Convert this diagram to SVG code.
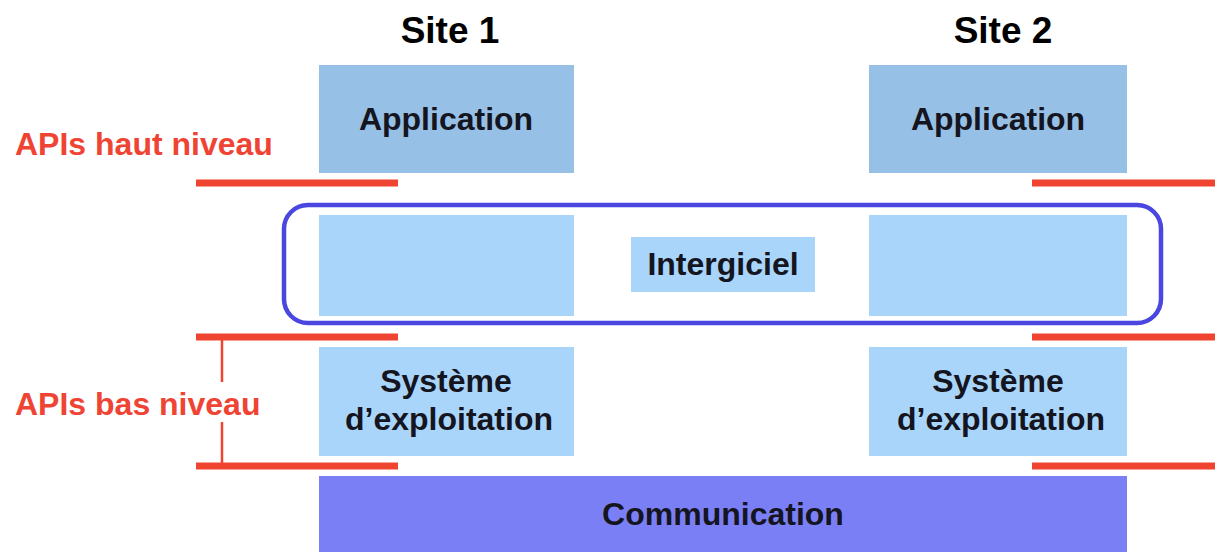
<svg xmlns="http://www.w3.org/2000/svg" width="1215" height="552" viewBox="0 0 1215 552">
<style>
.t{font-family:"Liberation Sans",Arial,sans-serif;font-weight:bold;font-size:32px;fill:#15151f;text-anchor:middle}
.site{font-family:"Liberation Sans",Arial,sans-serif;font-weight:bold;font-size:37px;fill:#000;text-anchor:middle}
.api{font-family:"Liberation Sans",Arial,sans-serif;font-weight:bold;font-size:32px;fill:#ef4434}
.app{fill:#97c0e6}
.light{fill:#a9d5fb}
.red{stroke:#ef4430;stroke-width:7;fill:none}
.redthin{stroke:#ef4430;stroke-width:2.5;fill:none}
</style>
<rect width="1215" height="552" fill="#fff"/>
<text class="site" x="450" y="43">Site 1</text>
<text class="site" x="1003" y="43">Site 2</text>
<g id="apis-haut"><text class="api" x="15" y="155">APIs haut niveau</text></g>
<g id="apis-bas"><text class="api" x="15" y="415">APIs bas niveau</text></g>
<g id="app1"><rect class="app" x="319" y="65" width="255" height="108"/><text class="t" x="446" y="130">Application</text></g>
<g id="app2"><rect class="app" x="869" y="65" width="258" height="108"/><text class="t" x="998" y="130">Application</text></g>
<g id="mw1"><rect class="light" x="319" y="215" width="255" height="101"/></g>
<g id="mw2"><rect class="light" x="869" y="215" width="258" height="101"/></g>
<g id="intergiciel"><rect class="light" x="631" y="237" width="184" height="55"/><text class="t" x="723" y="275">Intergiciel</text></g>
<g id="middleware-frame"><rect x="284" y="205" width="877" height="118" rx="24" fill="none" stroke="#4a47e0" stroke-width="4.5"/></g>
<g id="os1"><rect class="light" x="319" y="347" width="255" height="109"/><text class="t" x="446" y="392">Système</text><text class="t" x="449" y="430">d’exploitation</text></g>
<g id="os2"><rect class="light" x="869" y="347" width="258" height="109"/><text class="t" x="998" y="392">Système</text><text class="t" x="1001" y="430">d’exploitation</text></g>
<g id="comm"><rect x="319" y="476" width="808" height="76" fill="#7b7ff5"/><text class="t" x="723" y="525">Communication</text></g>
<g id="connectors">
<line class="red" x1="196" y1="183" x2="398" y2="183"/>
<line class="red" x1="1032" y1="183" x2="1215" y2="183"/>
<line class="red" x1="196" y1="337" x2="398" y2="337"/>
<line class="red" x1="1032" y1="337" x2="1215" y2="337"/>
<line class="red" x1="196" y1="466" x2="398" y2="466"/>
<line class="red" x1="1032" y1="466" x2="1215" y2="466"/>
<line class="redthin" x1="222" y1="340" x2="222" y2="382"/>
<line class="redthin" x1="222" y1="422" x2="222" y2="466"/>
</g>
</svg>
